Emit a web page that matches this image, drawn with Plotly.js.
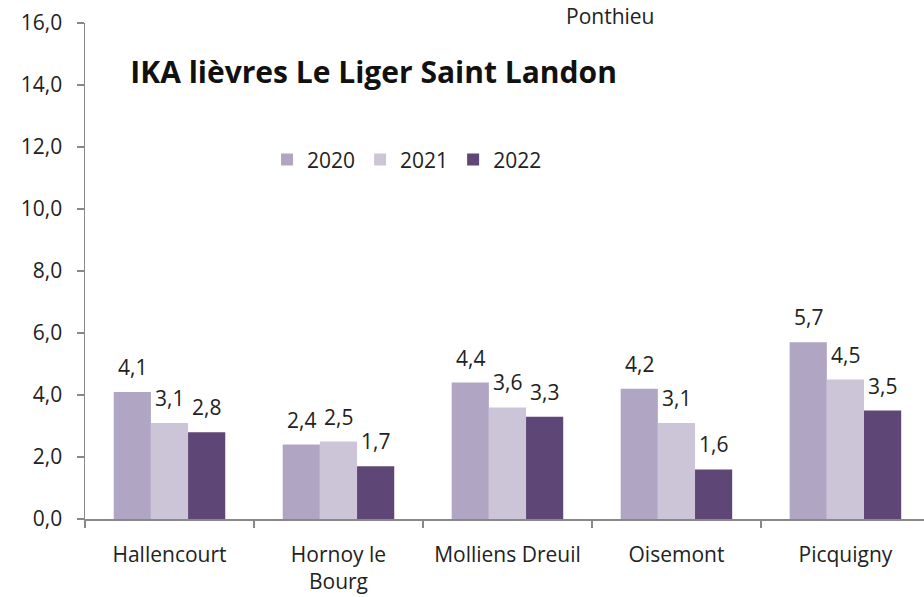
<!DOCTYPE html>
<html>
<head>
<meta charset="utf-8">
<script src="https://cdn.plot.ly/plotly-3.0.1.min.js"></script>
<style>html,body{margin:0;padding:0;background:#fff}#chart{width:924px;height:597px}</style>
</head>
<body>
<div id="chart"></div>
<script>
var categories = ["Hallencourt", "Hornoy le<br>Bourg", "Molliens Dreuil", "Oisemont", "Picquigny"];
var values2020 = [4.1, 2.4, 4.4, 4.2, 5.7];
var values2021 = [3.1, 2.5, 3.6, 3.1, 4.5];
var values2022 = [2.8, 1.7, 3.3, 1.6, 3.5];
var seriesNames = ["2020", "2021", "2022"];
var yTicks = [0, 2, 4, 6, 8, 10, 12, 14, 16];

var colors = ["#b1a5c4", "#ccc5d7", "#5e4677"];
var font = "Open Sans, sans-serif";
var allValues = [values2020, values2021, values2022];

function fmt(v) { return v.toFixed(1).replace(".", ","); }

var data = allValues.map(function(vals, i) {
  return {
    type: "bar", name: seriesNames[i], x: categories, y: vals,
    marker: {color: colors[i]},
    hoverinfo: "none"
  };
});

var barShift = 37.2;
var annotations = [];
allValues.forEach(function(vals, i) {
  vals.forEach(function(v, j) {
    annotations.push({
      x: categories[j], y: v, xref: "x", yref: "y",
      text: fmt(v), showarrow: false,
      xanchor: "center", yanchor: "bottom",
      xshift: (i - 1) * barShift, yshift: 9,
      font: {family: font, size: 21, color: "#222"}
    });
  });
});
annotations.push({
  text: "Ponthieu", xref: "paper", yref: "paper", x: 0.626, y: 1.014,
  xanchor: "center", yanchor: "middle", showarrow: false,
  font: {family: font, size: 21, color: "#222"}
});

var layout = {
  width: 924, height: 597,
  margin: {l: 85, r: 0, t: 23, b: 78},
  paper_bgcolor: "#fff", plot_bgcolor: "#fff",
  separators: ", ",
  barmode: "group", bargap: 0.34, bargroupgap: 0,
  showlegend: true,
  font: {family: font, size: 21, color: "#222"},
  title: {
    text: "<b>IKA lièvres Le Liger Saint Landon</b>",
    font: {family: font, size: 30, color: "#111"},
    xref: "paper", x: 0.054, xanchor: "left",
    yref: "container", y: 0.879, yanchor: "middle"
  },
  legend: {
    orientation: "h", x: 0.217, xanchor: "left", y: 0.724, yanchor: "middle",
    font: {family: font, size: 21, color: "#222"},
    traceorder: "normal", bgcolor: "rgba(0,0,0,0)"
  },
  annotations: annotations,
  xaxis: {
    type: "category", range: [-0.5, 4.465],
    showline: true, linecolor: "#888", linewidth: 1.5,
    ticks: "outside", tickson: "boundaries", ticklen: 7, tickcolor: "#888", tickwidth: 1.5,
    ticklabelstandoff: 16,
    tickfont: {family: font, size: 21, color: "#222"},
    showgrid: false, zeroline: false, fixedrange: true
  },
  yaxis: {
    range: [0, 16], tickvals: yTicks, tickformat: ".1f",
    showline: true, linecolor: "#888", linewidth: 1.5,
    ticks: "outside", ticklen: 7, tickcolor: "#888", tickwidth: 1.5,
    ticklabelstandoff: 10,
    tickfont: {family: font, size: 21, color: "#222"},
    showgrid: false, zeroline: false, fixedrange: true
  }
};

Plotly.newPlot("chart", data, layout, {staticPlot: true, displayModeBar: false});
</script>
</body>
</html>
